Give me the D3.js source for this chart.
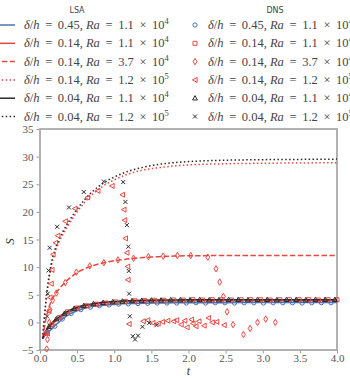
<!DOCTYPE html>
<html>
<head>
<meta charset="utf-8">
<script src="https://cdn.jsdelivr.net/npm/d3@7"></script>
<style>
  body { margin: 0; background: #fff; }
  svg { display: block; }
</style>
</head>
<body>
<div id="chart"></div>
<script>
// LSA curves, sampled on a common time grid
var tLSA = [0.036, 0.06, 0.1, 0.15, 0.2, 0.25, 0.3, 0.4, 0.5, 0.6, 0.7, 0.8, 0.9, 1.0, 1.2, 1.4, 1.6, 1.8, 2.0, 2.5, 3.0, 3.5, 4.0];
var lsaBlue     = [-2.9, -2.5, -1.9, -1.3, -0.6, 0.0, 0.6, 1.5, 2.1, 2.55, 2.85, 3.0, 3.15, 3.25, 3.4, 3.47, 3.5, 3.53, 3.55, 3.57, 3.58, 3.6, 3.6];
var lsaRed      = [-2.9, -2.2, -1.3, -0.5, 0.1, 0.6, 1.1, 1.9, 2.5, 2.9, 3.2, 3.4, 3.55, 3.65, 3.8, 3.88, 3.93, 3.96, 3.98, 4.0, 4.0, 4.0, 4.0];
var lsaRedDash  = [-2.9, -0.8, 1.8, 3.8, 5.0, 5.9, 6.7, 8.0, 9.0, 9.7, 10.2, 10.6, 10.9, 11.15, 11.5, 11.75, 11.9, 12.0, 12.05, 12.1, 12.1, 12.1, 12.1];
var lsaRedDot   = [-2.9, 0.8, 5.8, 10.0, 12.6, 14.3, 15.7, 18.0, 20.0, 21.7, 23.1, 24.2, 25.1, 25.8, 26.9, 27.6, 28.0, 28.3, 28.5, 28.7, 28.8, 28.85, 28.9];
var lsaBlack    = [-2.9, -2.1, -1.1, -0.3, 0.4, 0.9, 1.4, 2.2, 2.75, 3.1, 3.35, 3.55, 3.68, 3.78, 3.92, 4.0, 4.05, 4.07, 4.08, 4.1, 4.1, 4.1, 4.1];
var lsaBlackDot = [-2.9, 1.2, 6.3, 10.5, 13.1, 14.8, 16.2, 18.5, 20.5, 22.2, 23.6, 24.7, 25.6, 26.3, 27.4, 28.1, 28.6, 28.9, 29.1, 29.35, 29.45, 29.5, 29.55];

// DNS samples
var tCircle = [0.1, 0.2, 0.3, 0.42, 0.55, 0.68, 0.8, 0.93, 1.06, 1.19, 1.32, 1.45, 1.58, 1.71, 1.84, 1.97, 2.1, 2.23, 2.36, 2.49, 2.62, 2.75, 2.88, 3.01, 3.14, 3.27, 3.4, 3.53, 3.66, 3.79, 3.92];
var sCircle = [-1.8, -0.7, 0.6, 1.6, 2.3, 2.75, 3.0, 3.15, 3.3, 3.35, 3.4, 3.45, 3.5, 3.5, 3.5, 3.5, 3.55, 3.5, 3.55, 3.55, 3.5, 3.55, 3.55, 3.5, 3.55, 3.55, 3.55, 3.5, 3.55, 3.55, 3.55];

var tSquare = [0.08, 0.16, 0.26, 0.37, 0.5, 0.63, 0.76, 0.89, 1.02, 1.15, 1.28, 1.41, 1.54, 1.67, 1.8, 1.93, 2.06, 2.19, 2.32, 2.45, 2.58, 2.71, 2.84, 2.97, 3.1, 3.23, 3.36, 3.49, 3.62, 3.75, 3.88, 4.0];
var sSquare = [-2.0, -0.4, 0.9, 1.9, 2.6, 3.0, 3.3, 3.5, 3.7, 3.8, 3.9, 3.95, 4.0, 4.0, 4.05, 4.05, 4.1, 4.05, 4.1, 4.1, 4.05, 4.1, 4.1, 4.1, 4.05, 4.1, 4.1, 4.1, 4.1, 4.05, 4.1, 4.1];

var tDiamond = [0.09, 0.1, 0.125, 0.135, 0.17, 0.22, 0.34, 0.49, 0.67, 0.86, 1.05, 1.26, 1.46, 1.66, 1.85, 2.03, 2.26, 2.37, 2.42, 2.47, 2.52, 2.6, 2.74, 2.83, 2.93, 3.04, 3.17];
var sDiamond = [-4.8, -3.1, 0.0, 2.3, 4.0, 5.3, 7.2, 9.1, 10.2, 10.8, 11.3, 11.6, 11.9, 12.0, 12.1, 12.1, 11.8, 9.7, 7.3, 4.7, 1.9, -0.4, -2.2, -1.1, 0.0, 0.6, 0.0];

var tLeft = [0.1, 0.12, 0.135, 0.15, 0.16, 0.175, 0.21, 0.24, 0.34, 0.47, 0.64, 0.78, 0.97, 1.11, 1.13, 1.14, 1.15, 1.17, 1.18, 1.185, 1.2, 1.39, 1.45, 1.52, 1.59, 1.65, 1.72, 1.8, 1.84, 1.9, 1.95, 1.98, 2.04, 2.06, 2.1, 2.14, 2.21, 2.27, 2.32, 2.38, 2.48];
var sLeft = [-2.0, 2.0, 4.5, 7.0, 9.5, 12.3, 14.4, 15.7, 18.3, 20.6, 22.6, 23.8, 24.7, 23.1, 20.4, 18.5, 15.2, 12.6, 10.1, 7.7, -0.3, 0.2, 0.4, -0.1, -0.2, 0.1, 0.3, 0.2, 0.4, -0.4, 0.3, -0.9, 0.5, -0.2, -0.7, 0.2, -0.6, 0.8, 0.0, 0.1, -0.5];

var tTri = [0.12, 0.22, 0.33, 0.46, 0.59, 0.72, 0.85, 0.98, 1.11, 1.24, 1.37, 1.5, 1.63, 1.76, 1.89, 2.02, 2.15, 2.28, 2.41, 2.54, 2.67, 2.8, 2.93, 3.06, 3.19, 3.32, 3.45, 3.58, 3.71, 3.84, 3.97];
var sTri = [-0.8, 0.6, 1.6, 2.5, 3.0, 3.35, 3.55, 3.7, 3.8, 3.9, 3.95, 4.0, 4.0, 4.05, 4.05, 4.05, 4.1, 4.05, 4.05, 4.1, 4.1, 4.05, 4.1, 4.1, 4.05, 4.1, 4.1, 4.05, 4.1, 4.1, 4.1];

var tCross = [0.095, 0.105, 0.115, 0.13, 0.23, 0.39, 0.59, 0.86, 1.12, 1.15, 1.17, 1.19, 1.195, 1.2, 1.21, 1.25, 1.28, 1.32, 1.38, 1.47, 1.57];
var sCross = [1.1, 5.2, 9.4, 13.5, 17.3, 20.8, 23.6, 25.5, 25.4, 21.8, 17.6, 13.7, 9.3, 5.2, 1.1, -2.5, -3.1, -2.4, -0.8, -0.1, -0.5];

var xTicks = [0, 0.5, 1, 1.5, 2, 2.5, 3, 3.5, 4];
var yTicks = [-5, 0, 5, 10, 15, 20, 25, 30, 35];

// legend labels: [delta/h, Ra mantissa, Ra exponent]
var cases = [["0.45", "1.1", "4"], ["0.14", "1.1", "4"], ["0.14", "3.7", "4"],
             ["0.14", "1.2", "5"], ["0.04", "1.1", "4"], ["0.04", "1.2", "5"]];

var BLUE = "#4c72b0", RED = "#e8473f", BLACK = "#2b2b2b";
var SERIF = "'Liberation Serif', 'DejaVu Serif', serif";

var W = 350, H = 378;
var margin = {top: 129, right: 13, bottom: 28, left: 40};
var width = W - margin.left - margin.right,
    height = H - margin.top - margin.bottom;

var root = d3.select("#chart").append("svg")
    .attr("width", W)
    .attr("height", H);

var svg = root.append("g")
    .attr("transform", "translate(" + margin.left + "," + margin.top + ")");

var x = d3.scaleLinear().domain([0, 4]).range([0, width]);
var y = d3.scaleLinear().domain([-5, 35]).range([height, 0]);

// marker shapes, centred on 0,0
function markerPath(kind) {
    if (kind === "circle") return d3.symbol(d3.symbolCircle, 14)();
    if (kind === "square") return "M-2,-2H2V2H-2Z";
    if (kind === "diamond") return "M0,-3.2L1.9,0L0,3.2L-1.9,0Z";
    if (kind === "left") return "M-2.5,0L2.1,-2.5L2.1,2.5Z";
    if (kind === "tri") return "M0,-2.6L2.4,1.8L-2.4,1.8Z";
    return "M-2,-2L2,2M-2,2L2,-2";
}

var lsa = [
    {s: lsaBlue, color: BLUE, dash: null},
    {s: lsaRed, color: RED, dash: null},
    {s: lsaRedDash, color: RED, dash: "5.5,2.4"},
    {s: lsaRedDot, color: RED, dash: "1.5,2.4"},
    {s: lsaBlack, color: BLACK, dash: null},
    {s: lsaBlackDot, color: BLACK, dash: "1.5,2.4"}
];

var dns = [
    {t: tCircle, s: sCircle, color: BLUE, kind: "circle"},
    {t: tSquare, s: sSquare, color: RED, kind: "square"},
    {t: tDiamond, s: sDiamond, color: RED, kind: "diamond"},
    {t: tLeft, s: sLeft, color: RED, kind: "left"},
    {t: tTri, s: sTri, color: BLACK, kind: "tri"},
    {t: tCross, s: sCross, color: BLACK, kind: "cross"}
];

// axes
var xAxis = d3.axisBottom(x).tickValues(xTicks).tickSize(3.5).tickPadding(0.5)
    .tickFormat(d3.format(".1f"));
var yAxis = d3.axisLeft(y).tickValues(yTicks).tickSize(3.5).tickPadding(3)
    .tickFormat(function(d) { return d < 0 ? "\u2212" + Math.abs(d) : d; });

var gx = svg.append("g")
    .attr("transform", "translate(0," + height + ")")
    .call(xAxis);
var gy = svg.append("g").call(yAxis);

[gx, gy].forEach(function(g) {
    g.select(".domain").remove();
    g.attr("font-family", SERIF).attr("font-size", 11);
    g.selectAll(".tick line").attr("stroke", "#999").attr("stroke-width", 1);
    g.selectAll(".tick text").attr("fill", "#555");
});

// frame
svg.append("rect")
    .attr("x", 0).attr("y", 0)
    .attr("width", width).attr("height", height)
    .attr("fill", "none")
    .attr("stroke", "#aaa")
    .attr("stroke-width", 1.8);

// LSA lines
var line = d3.line()
    .x(function(d) { return x(d[0]); })
    .y(function(d) { return y(d[1]); })
    .curve(d3.curveMonotoneX);

lsa.forEach(function(c) {
    svg.append("path")
        .datum(tLSA.map(function(t, i) { return [t, c.s[i]]; }))
        .attr("d", line)
        .attr("fill", "none")
        .attr("stroke", c.color)
        .attr("stroke-width", 1.5)
        .attr("stroke-dasharray", c.dash);
});

// DNS markers
dns.forEach(function(c) {
    svg.append("g").selectAll("path")
        .data(c.t.map(function(t, i) { return [t, c.s[i]]; }))
        .enter()
        .append("path")
        .attr("d", markerPath(c.kind))
        .attr("transform", function(d) { return "translate(" + x(d[0]) + "," + y(d[1]) + ")"; })
        .attr("fill", "none")
        .attr("stroke", c.color)
        .attr("stroke-width", 1);
});

// axis labels
root.append("text")
    .attr("transform", "translate(14," + (margin.top + height / 2 + 2) + ")rotate(-90)")
    .attr("text-anchor", "middle")
    .style("font-family", SERIF)
    .style("font-style", "italic")
    .style("font-size", "13px")
    .attr("fill", "#333")
    .text("S");

root.append("text")
    .attr("x", margin.left + width / 2)
    .attr("y", 375)
    .attr("text-anchor", "middle")
    .style("font-family", SERIF)
    .style("font-style", "italic")
    .style("font-size", "12px")
    .attr("fill", "#333")
    .text("t");

// legends
var SP = "\u2009";
function label(sel, c) {
    var t = sel.append("text")
        .style("font-family", SERIF)
        .style("font-size", "12.5px")
        .attr("fill", "#444");
    t.append("tspan").style("font-style", "italic").text("\u03b4");
    t.append("tspan").text("/");
    t.append("tspan").style("font-style", "italic").text("h");
    t.append("tspan").text(SP + " = " + SP + c[0] + ", ");
    t.append("tspan").style("font-style", "italic").text("Ra");
    t.append("tspan").text(SP + " = " + SP + c[1] + SP + " \u00d7 " + SP + "10");
    t.append("tspan").attr("dy", -5).style("font-size", "8.5px").text(c[2]);
    return t;
}

root.append("text")
    .attr("x", 77).attr("y", 13)
    .attr("text-anchor", "middle")
    .style("font-family", "'DejaVu Sans', sans-serif")
    .style("font-size", "8px")
    .attr("fill", "#444")
    .text("LSA");

root.append("text")
    .attr("x", 275).attr("y", 13)
    .attr("text-anchor", "middle")
    .style("font-family", "'DejaVu Sans', sans-serif")
    .style("font-size", "8px")
    .attr("fill", "#444")
    .text("DNS");

cases.forEach(function(c, i) {
    var yy = 25 + i * 18.3;
    var g = root.append("g").attr("transform", "translate(0," + yy + ")");
    g.append("line")
        .attr("x1", -6).attr("x2", 15)
        .attr("y1", 0).attr("y2", 0)
        .attr("stroke", lsa[i].color)
        .attr("stroke-width", 1.5)
        .attr("stroke-dasharray", lsa[i].dash);
    label(g, c).attr("x", 24).attr("y", 4);

    // the DNS column runs past the right edge, as in the original
    var g2 = root.append("g").attr("transform", "translate(0," + yy + ")");
    g2.append("path")
        .attr("d", markerPath(dns[i].kind))
        .attr("transform", "translate(195,0)")
        .attr("fill", "none")
        .attr("stroke", dns[i].color)
        .attr("stroke-width", 1);
    label(g2, c).attr("x", 208).attr("y", 4);
});
</script>
</body>
</html>
